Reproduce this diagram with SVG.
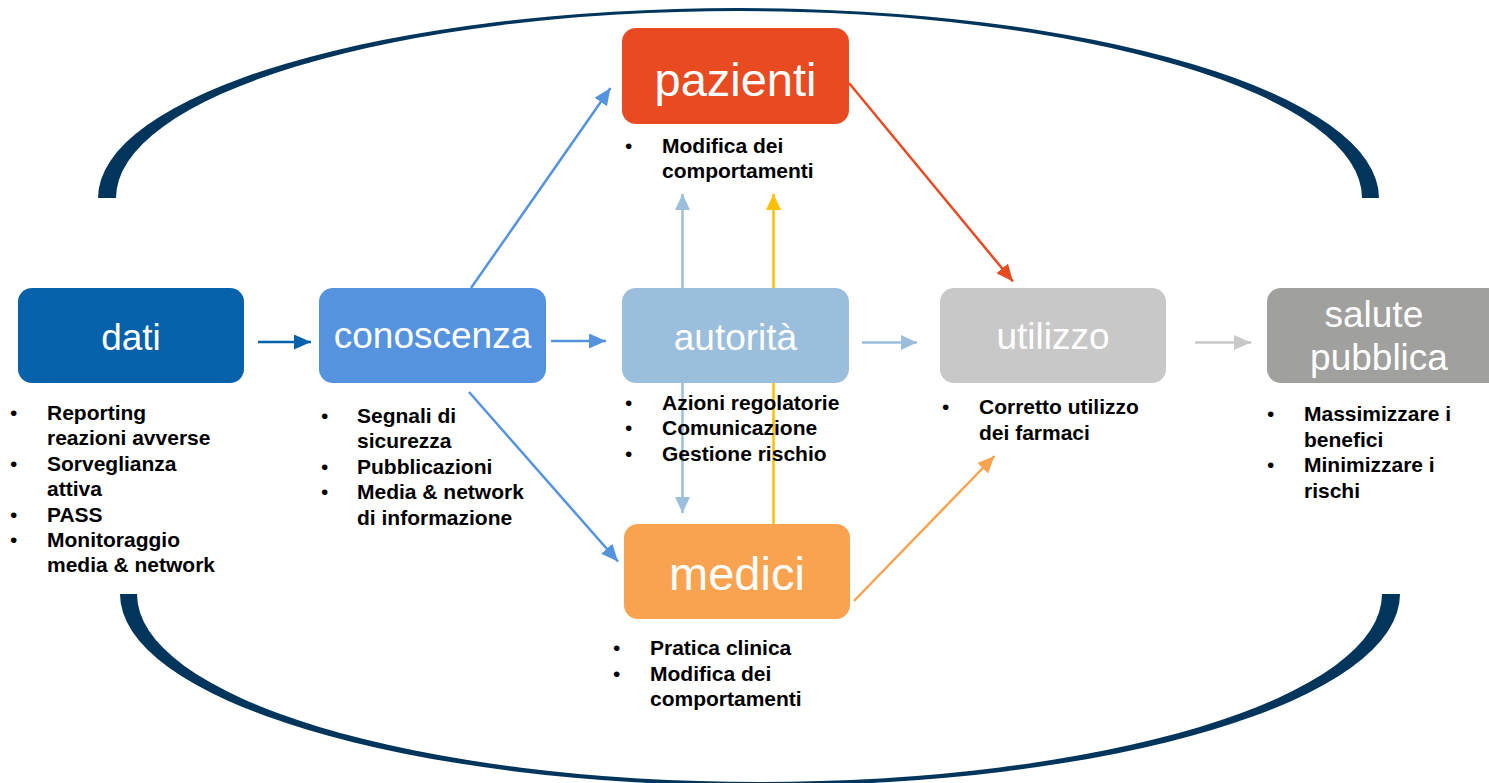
<svg xmlns="http://www.w3.org/2000/svg" width="1489" height="783" viewBox="0 0 1489 783">
  <style>
    .lbl { font-family: "Liberation Sans", Arial, sans-serif; fill: #ffffff; text-anchor: middle; }
    .mid { font-size: 37px; }
    .big { font-size: 47px; }
    .lst { font-family: "Liberation Sans", Arial, sans-serif; font-size: 21px; font-weight: bold; fill: #000000; }
    .bul { font-family: "Liberation Sans", Arial, sans-serif; font-size: 21px; fill: #000000; }
    .ln { fill: none; stroke-width: 2.5; }
    .loop { fill: #02355C; }
  </style>
  <defs>
    <marker id="hDark" markerUnits="userSpaceOnUse" markerWidth="17" markerHeight="15" refX="17" refY="7.5" orient="auto">
      <path d="M0,0 L17,7.5 L0,15 Z" fill="#0561AA"/>
    </marker>
    <marker id="hBlue" markerUnits="userSpaceOnUse" markerWidth="17" markerHeight="15" refX="17" refY="7.5" orient="auto">
      <path d="M0,0 L17,7.5 L0,15 Z" fill="#5593DF"/>
    </marker>
    <marker id="hLight" markerUnits="userSpaceOnUse" markerWidth="16" markerHeight="15" refX="16" refY="7.5" orient="auto">
      <path d="M0,0 L16,7.5 L0,15 Z" fill="#9BBEDC"/>
    </marker>
    <marker id="hGray" markerUnits="userSpaceOnUse" markerWidth="17" markerHeight="15" refX="17" refY="7.5" orient="auto">
      <path d="M0,0 L17,7.5 L0,15 Z" fill="#C8C8C8"/>
    </marker>
    <marker id="hRed" markerUnits="userSpaceOnUse" markerWidth="17" markerHeight="15" refX="17" refY="7.5" orient="auto">
      <path d="M0,0 L17,7.5 L0,15 Z" fill="#E84B22"/>
    </marker>
    <marker id="hOrange" markerUnits="userSpaceOnUse" markerWidth="17" markerHeight="15" refX="17" refY="7.5" orient="auto">
      <path d="M0,0 L17,7.5 L0,15 Z" fill="#F9A351"/>
    </marker>
    <marker id="hYellow" markerUnits="userSpaceOnUse" markerWidth="16" markerHeight="15" refX="16" refY="7.5" orient="auto">
      <path d="M0,0 L16,7.5 L0,15 Z" fill="#FFC000"/>
    </marker>
  </defs>

  <!-- tapered loop arcs above and below the flow -->
  <g id="loop">
    <path class="loop" d="M98,198 A640.5,190 0 0 1 1379,198 L1362,198 A623,187 0 0 0 116,198 Z"/>
    <path class="loop" d="M120,594 A640,192 0 0 0 1400,594 L1382,594 A622.5,188 0 0 1 137,594 Z"/>
  </g>

  <!-- connectors -->
  <g id="connectors">
    <line class="ln" x1="258" y1="342" x2="311" y2="342" stroke="#0561AA" marker-end="url(#hDark)"/>
    <line class="ln" x1="551" y1="341" x2="606" y2="341" stroke="#5593DF" marker-end="url(#hBlue)"/>
    <line class="ln" x1="862" y1="342.5" x2="917" y2="342.5" stroke="#9BBEDC" marker-end="url(#hLight)"/>
    <line class="ln" x1="1195" y1="342.5" x2="1251" y2="342.5" stroke="#C8C8C8" marker-end="url(#hGray)"/>
    <line class="ln" x1="471" y1="288" x2="610.5" y2="88" stroke="#5593DF" marker-end="url(#hBlue)"/>
    <line class="ln" x1="469" y1="392" x2="618" y2="561.5" stroke="#5593DF" marker-end="url(#hBlue)"/>
    <line class="ln" x1="849" y1="83" x2="1013" y2="281.5" stroke="#E84B22" marker-end="url(#hRed)"/>
    <line class="ln" x1="854" y1="601" x2="994.5" y2="456" stroke="#F9A351" marker-end="url(#hOrange)"/>
    <line class="ln" x1="682.5" y1="288" x2="682.5" y2="194" stroke="#9BBEDC" marker-end="url(#hLight)"/>
    <line class="ln" x1="682.5" y1="383" x2="682.5" y2="513" stroke="#9BBEDC" marker-end="url(#hLight)"/>
    <line class="ln" x1="773.5" y1="524" x2="773.5" y2="194" stroke="#FFC000" marker-end="url(#hYellow)"/>
  </g>

  <g id="dati">
    <rect x="18" y="288" width="226" height="95" rx="14" fill="#0561AA"/>
    <text class="lbl mid" x="131" y="350">dati</text>
    <text class="bul"><tspan x="10" y="420">•</tspan><tspan x="10" y="470.8">•</tspan><tspan x="10" y="521.6">•</tspan><tspan x="10" y="547">•</tspan></text>
    <text class="lst">
      <tspan x="47" y="420">Reporting</tspan>
      <tspan x="47" y="445.4">reazioni avverse</tspan>
      <tspan x="47" y="470.8">Sorveglianza</tspan>
      <tspan x="47" y="496.2">attiva</tspan>
      <tspan x="47" y="521.6">PASS</tspan>
      <tspan x="47" y="547">Monitoraggio</tspan>
      <tspan x="47" y="572.4">media &amp; network</tspan>
    </text>
  </g>

  <g id="conoscenza">
    <rect x="319" y="288" width="227" height="95" rx="14" fill="#5593DF"/>
    <text class="lbl mid" x="432.5" y="348">conoscenza</text>
    <text class="bul"><tspan x="321" y="423">•</tspan><tspan x="321" y="473.8">•</tspan><tspan x="321" y="499.2">•</tspan></text>
    <text class="lst">
      <tspan x="357" y="423">Segnali di</tspan>
      <tspan x="357" y="448.4">sicurezza</tspan>
      <tspan x="357" y="473.8">Pubblicazioni</tspan>
      <tspan x="357" y="499.2">Media &amp; network</tspan>
      <tspan x="357" y="524.6">di informazione</tspan>
    </text>
  </g>

  <g id="autorita">
    <rect x="622" y="288" width="227" height="95" rx="14" fill="#9BBEDC"/>
    <text class="lbl mid" x="735.5" y="350">autorità</text>
    <text class="bul"><tspan x="625" y="409.5">•</tspan><tspan x="625" y="435">•</tspan><tspan x="625" y="460.5">•</tspan></text>
    <text class="lst">
      <tspan x="662" y="409.5">Azioni regolatorie</tspan>
      <tspan x="662" y="435">Comunicazione</tspan>
      <tspan x="662" y="460.5">Gestione rischio</tspan>
    </text>
  </g>

  <g id="utilizzo">
    <rect x="940" y="288" width="226" height="95" rx="14" fill="#C8C8C8"/>
    <text class="lbl mid" x="1053" y="349" fill="#F5F5F5">utilizzo</text>
    <text class="bul"><tspan x="942" y="414">•</tspan></text>
    <text class="lst">
      <tspan x="979" y="414">Corretto utilizzo</tspan>
      <tspan x="979" y="439.5">dei farmaci</tspan>
    </text>
  </g>

  <g id="salute-pubblica">
    <rect x="1267" y="288" width="236" height="95" rx="14" fill="#A0A09F"/>
    <text class="lbl mid">
      <tspan x="1379" y="327">salute</tspan>
      <tspan x="1379" y="369.5">pubblica</tspan>
    </text>
    <text class="bul"><tspan x="1267" y="421">•</tspan><tspan x="1267" y="472">•</tspan></text>
    <text class="lst">
      <tspan x="1304" y="421">Massimizzare i</tspan>
      <tspan x="1304" y="446.5">benefici</tspan>
      <tspan x="1304" y="472">Minimizzare i</tspan>
      <tspan x="1304" y="497.5">rischi</tspan>
    </text>
  </g>

  <g id="pazienti">
    <rect x="622" y="28" width="227" height="96" rx="14" fill="#E84B22"/>
    <text class="lbl big" x="735.5" y="96">pazienti</text>
    <text class="bul"><tspan x="625" y="153">•</tspan></text>
    <text class="lst">
      <tspan x="662" y="153">Modifica dei</tspan>
      <tspan x="662" y="178">comportamenti</tspan>
    </text>
  </g>

  <g id="medici">
    <rect x="624" y="524" width="226" height="95" rx="14" fill="#F9A351"/>
    <text class="lbl big" x="737" y="590">medici</text>
    <text class="bul"><tspan x="613" y="655">•</tspan><tspan x="613" y="680.5">•</tspan></text>
    <text class="lst">
      <tspan x="650" y="655">Pratica clinica</tspan>
      <tspan x="650" y="680.5">Modifica dei</tspan>
      <tspan x="650" y="706">comportamenti</tspan>
    </text>
  </g>
</svg>
